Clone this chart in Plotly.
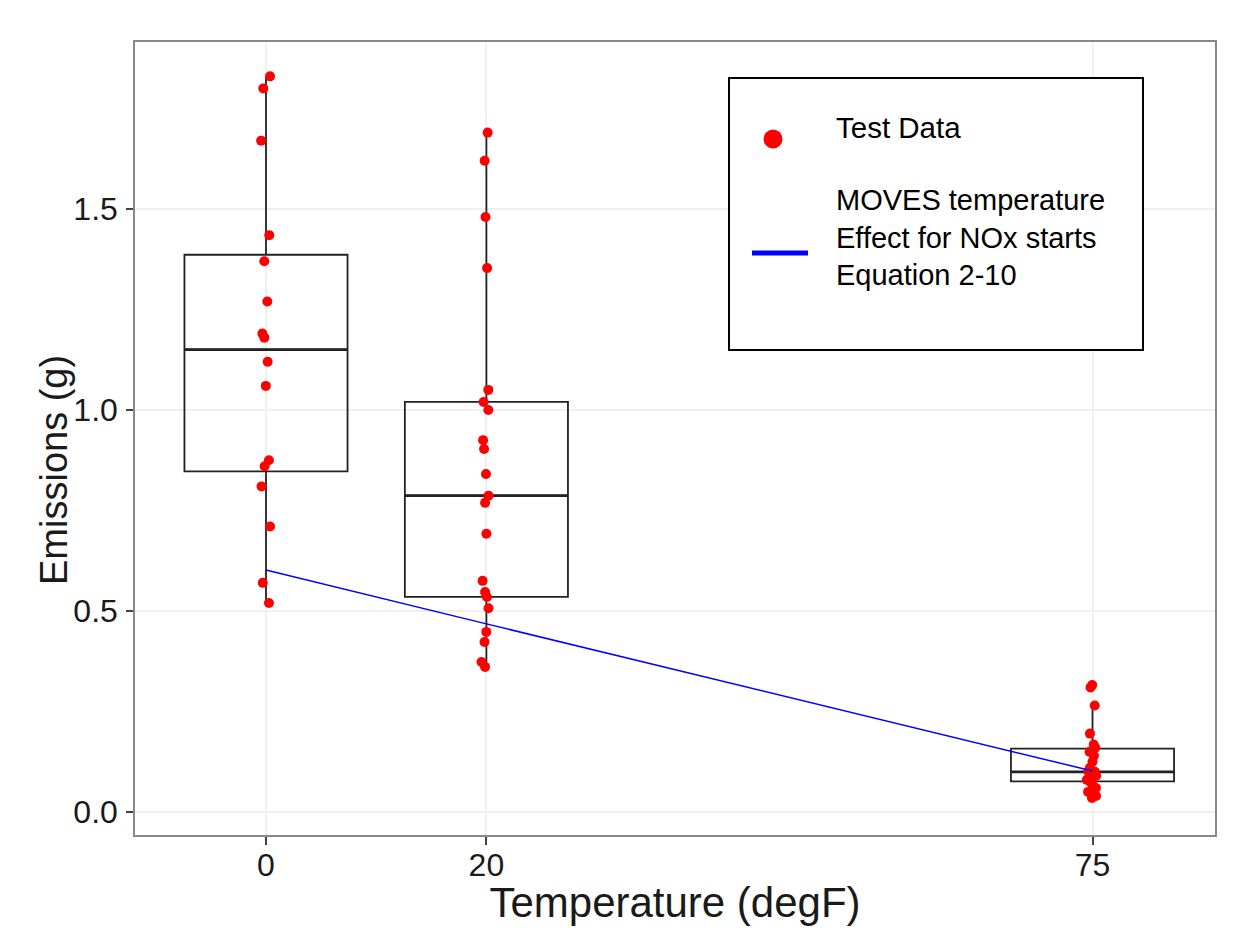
import numpy as np
import plotly.graph_objects as go

# ---- data ----
temps = [0, 20, 75]
test_0 = [1.83, 1.80, 1.67, 1.435, 1.37, 1.27, 1.19, 1.18, 1.12, 1.06, 0.875, 0.86, 0.81, 0.71, 0.57, 0.52]
test_20 = [1.69, 1.62, 1.48, 1.353, 1.05, 1.02, 1.00, 0.925, 0.903, 0.841, 0.787, 0.769, 0.692,
           0.575, 0.547, 0.535, 0.507, 0.448, 0.423, 0.373, 0.361]
test_75 = [0.316, 0.31, 0.265, 0.195, 0.168, 0.16, 0.15, 0.14, 0.125, 0.11, 0.10, 0.10, 0.095,
           0.09, 0.085, 0.08, 0.075, 0.07, 0.06, 0.05, 0.04, 0.035]
moves_temp = [0, 20, 75]
moves_emis = [0.602, 0.468, 0.102]

groups = [test_0, test_20, test_75]

# box statistics (R type-7 quantiles, whiskers at 1.5 IQR like ggplot)
q1s, meds, q3s, lfs, ufs = [], [], [], [], []
for g in groups:
    a = np.array(g)
    q1, med, q3 = np.percentile(a, [25, 50, 75])
    iqr = q3 - q1
    lf = a[a >= q1 - 1.5 * iqr].min()
    uf = a[a <= q3 + 1.5 * iqr].max()
    q1s.append(q1); meds.append(med); q3s.append(q3); lfs.append(lf); ufs.append(uf)

pts_x = []
pts_y = []
for t, g in zip(temps, groups):
    pts_x += [t] * len(g)
    pts_y += g

FONT = "Liberation Sans, Arial, sans-serif"

fig = go.Figure()

fig.add_trace(go.Box(
    x=temps, q1=q1s, median=meds, q3=q3s, lowerfence=lfs, upperfence=ufs,
    width=14.8, whiskerwidth=0, fillcolor="rgba(255,255,255,0)",
    line=dict(color="#222222", width=1.8), boxpoints=False,
    showlegend=False, hoverinfo="skip"))

# thicker median bar (ggplot style)
fig.add_trace(go.Box(
    x=temps, q1=meds, median=meds, q3=meds, lowerfence=meds, upperfence=meds,
    width=14.8, whiskerwidth=0, fillcolor="rgba(255,255,255,0)",
    line=dict(color="#222222", width=2.8), boxpoints=False,
    showlegend=False, hoverinfo="skip"))

fig.add_trace(go.Box(
    x=pts_x, y=pts_y, boxpoints="all", jitter=0.07, pointpos=0, width=14.8,
    fillcolor="rgba(0,0,0,0)", line=dict(color="rgba(0,0,0,0)", width=0),
    marker=dict(color="#ff0000", size=10, line=dict(width=0)),
    showlegend=False, name="Test Data"))

fig.add_trace(go.Scatter(
    x=moves_temp, y=moves_emis, mode="lines",
    line=dict(color="#0000ff", width=1.5), showlegend=False,
    name="MOVES temperature Effect for NOx starts Equation 2-10"))

# page has an 8px body margin; target screen px: plot left 135, right 1215, top 42, bottom 835
OFF = 8
W, H = 1243 - 2 * OFF, 934 - 2 * OFF
L, R, T, B = 135 - OFF, 1215 - OFF, 42 - OFF, 835 - OFF


def px(xs):
    return (xs - OFF - L) / (R - L)


def py(ys):
    return (B - (ys - OFF)) / (B - T)


shapes = [
    dict(type="rect", xref="paper", yref="paper", x0=px(729), x1=px(1143), y0=py(350), y1=py(78),
         line=dict(color="black", width=2), fillcolor="white", layer="above"),
    dict(type="circle", xref="paper", yref="paper", x0=px(763.5), x1=px(782.5), y0=py(148.5), y1=py(129.5),
         line=dict(color="#ff0000", width=0), fillcolor="#ff0000", layer="above"),
    dict(type="line", xref="paper", yref="paper", x0=px(752), x1=px(808), y0=py(253), y1=py(253),
         line=dict(color="#0000ff", width=5), layer="above"),
]

annotations = [
    dict(xref="paper", yref="paper", x=px(834), y=py(128), xanchor="left", yanchor="middle",
         text="Test Data", showarrow=False, font=dict(family=FONT, size=29.5, color="black"), align="left"),
    dict(xref="paper", yref="paper", x=px(834), y=py(238), xanchor="left", yanchor="middle",
         text="MOVES temperature<br>Effect for NOx starts<br>Equation 2-10", showarrow=False,
         font=dict(family=FONT, size=29, color="black"), align="left"),
    dict(xref="paper", yref="paper", x=px(54), y=py(470), xanchor="center", yanchor="middle",
         text="Emissions (g)", textangle=-90, showarrow=False,
         font=dict(family=FONT, size=38, color="#1a1a1a")),
]

x0v = -(266 - 135) / 11.02
x1v = (1215 - 266) / 11.02
y1v = (812 - 42) / 402.0
y0v = -(835 - 812) / 402.0

fig.update_layout(
    width=W, height=H,
    margin=dict(l=L, r=W - R, t=T, b=H - B),
    paper_bgcolor="white", plot_bgcolor="white",
    boxmode="overlay",
    shapes=shapes, annotations=annotations,
    font=dict(family=FONT, color="#1a1a1a"),
    xaxis=dict(
        range=[x0v, x1v], tickmode="array", tickvals=temps, ticktext=["0", "20", "75"],
        ticks="outside", ticklen=8, tickwidth=1.5, tickcolor="#444444",
        tickfont=dict(size=32, family=FONT, color="#1a1a1a"),
        showgrid=True, gridcolor="#f0f0f0", gridwidth=1.5, zeroline=False,
        showline=True, linecolor="#888888", linewidth=1.5, mirror=True,
        title=dict(text="Temperature (degF)", font=dict(size=42, family=FONT, color="#1a1a1a"), standoff=2),
        ticklabelstandoff=-7, automargin=False,
    ),
    yaxis=dict(
        range=[y0v, y1v], tickmode="array", tickvals=[0, 0.5, 1.0, 1.5], ticktext=["0.0", "0.5", "1.0", "1.5"],
        ticks="outside", ticklen=7, tickwidth=1.5, tickcolor="#444444",
        tickfont=dict(size=32, family=FONT, color="#1a1a1a"),
        showgrid=True, gridcolor="#f0f0f0", gridwidth=1.5, zeroline=False,
        showline=True, linecolor="#888888", linewidth=1.5, mirror=True,
        ticklabelstandoff=2, automargin=False,
    ),
)

fig.write_html("out.html")
